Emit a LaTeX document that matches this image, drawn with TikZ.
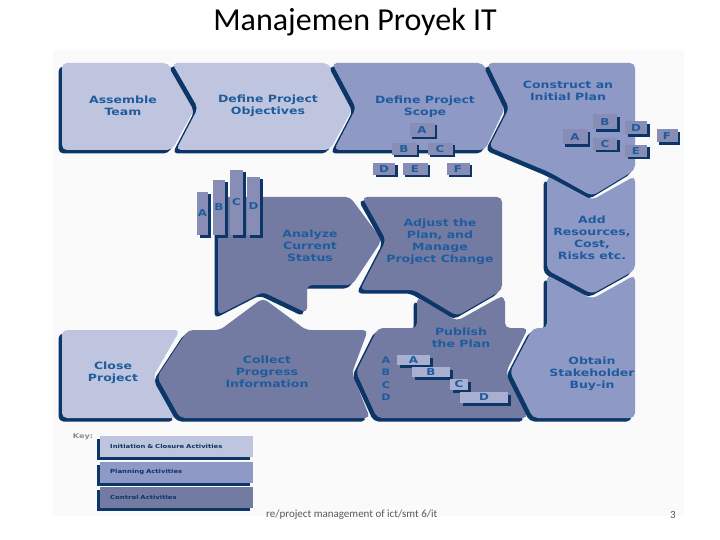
\documentclass[tikz,border=0pt]{standalone}
\usepackage{fontspec}
\setmainfont{Carlito}
\newfontfamily\boxfont[FakeStretch=1.25]{DejaVu Sans}
\usepackage{tikz}
\usetikzlibrary{shadows}

\definecolor{initc}{HTML}{BFC5DE}
\definecolor{planc}{HTML}{8E99C6}
\definecolor{ctrlc}{HTML}{737BA3}
\definecolor{edgec}{HTML}{0C3568}
\definecolor{labc}{HTML}{1F5C9E}
\definecolor{tabc}{HTML}{878DB4}
\definecolor{barc}{HTML}{A9AFD0}

\begin{document}
\begin{tikzpicture}[x=1pt,y=-1pt,every node/.style={inner sep=0pt},
    piece/.style={fill=#1,rounded corners=5pt,
      drop shadow={shadow xshift=-3.5pt,shadow yshift=-3.5pt,opacity=1,fill=edgec}},
    lab/.style={text=labc,align=center,font=\boxfont\bfseries\fontsize{10}{12}\selectfont},
    tab/.style={fill=tabc,text=labc,minimum width=#1,
      font=\boxfont\bfseries\fontsize{9.5}{9.5}\selectfont,
      drop shadow={shadow xshift=2.5pt,shadow yshift=-2.5pt,opacity=1,fill=edgec}},
    bar/.style={tab=#1,fill=barc,minimum height=10pt},
    keybar/.style={fill=#1,anchor=west,text width=133pt,inner xsep=10pt,minimum height=21pt,
      text=edgec,font=\boxfont\bfseries\fontsize{5.5}{6}\selectfont,
      drop shadow={shadow xshift=-3pt,shadow yshift=-3pt,opacity=1,fill=edgec}}]
  \useasboundingbox (0,0) rectangle (720,540);
  \fill[black!2] (53,50) rectangle (684,516);

  % top row
  \path[piece=initc] (62,63) -- (168,63) -- (195,108) -- (172,150) -- (62,150) -- cycle;
  \path[piece=initc] (172,63) -- (328,63) -- (353,108) -- (330,150) -- (176,150) -- (198,108) -- cycle;
  \path[piece=planc] (332,63) -- (483,63) -- (505,108) -- (485,150) -- (334,150) -- (356,108) -- cycle;
  \path[piece=planc] (487,63) -- (635,63) -- (635,170) -- (592,196) -- (549,172) -- (489,147) -- (509,108) -- cycle;
  % right column
  \path[piece=planc] (547,176) -- (592,200) -- (635,176) -- (635,270) -- (592,294) -- (547,270) -- cycle;
  % bottom row
  \path[piece=initc] (62,330) -- (180,330) -- (153,377) -- (178,418) -- (62,418) -- cycle;
  \path[piece=ctrlc] (188,330) -- (220,330) -- (263,298) -- (306,330) -- (368,330) -- (352,373)
    -- (370,418) -- (180,418) -- (157,377) -- cycle;
  % middle
  \path[piece=ctrlc] (218,197) -- (350,197) -- (382,240) -- (352,285) -- (307,285) -- (307,313)
    -- (263,292) -- (218,315) -- cycle;
  \path[piece=ctrlc] (362,197) -- (502,197) -- (502,290) -- (457,316) -- (414,290) -- (360,290)
    -- (386,240) -- cycle;
  \path[piece=ctrlc] (417,297) -- (457,321) -- (500,297) -- (505,297) -- (505,328) -- (528,328)
    -- (506,372) -- (528,418) -- (377,418) -- (356,372) -- (378,328) -- (417,328) -- cycle;
  \path[piece=planc] (547,275) -- (592,299) -- (635,275) -- (635,418) -- (533,418) -- (510,372)
    -- (533,328) -- (547,328) -- cycle;

  % labels
  \node[lab] (assemble) at (123,106) {Assemble\\Team};
  \node[lab] (objectives) at (268,106) {Define Project\\Objectives};
  \node[lab] (scope) at (425,107) {Define Project\\Scope};
  \node[lab] (construct) at (568,91) {Construct an\\Initial Plan};
  \node[lab] (resources) at (592,238) {Add\\Resources,\\Cost,\\Risks etc.};
  \node[lab] (stakeholder) at (592,374) {Obtain\\Stakeholder\\Buy-in};
  \node[lab] (analyze) at (310,246) {Analyze\\Current\\Status};
  \node[lab] (adjust) at (440,242) {Adjust the\\Plan, and\\Manage\\Project Change};
  \node[lab] (publish) at (461,338) {Publish\\the Plan};
  \node[lab] (collect) at (267,372) {Collect\\Progress\\Information};
  \node[lab] (close) at (113,373) {Close\\Project};

  % scope tree
  \node[tab=25pt,minimum height=14pt] (sa) at (422,130) {A};
  \node[tab=25pt,minimum height=12pt] (sb) at (404,149) {B};
  \node[tab=25pt,minimum height=12pt] (sc) at (440,149) {C};
  \node[tab=22pt,minimum height=12pt] (sd) at (384,169) {D};
  \node[tab=25pt,minimum height=12pt] (se) at (415,169) {E};
  \node[tab=23pt,minimum height=12pt] (sf) at (458,169) {F};

  % plan network
  \node[tab=25pt,minimum height=15pt] (pa) at (575,137) {A};
  \node[tab=24pt,minimum height=15pt] (pb) at (605,122) {B};
  \node[tab=24pt,minimum height=12pt] (pc) at (605,144) {C};
  \node[tab=22pt,minimum height=13pt] (pd) at (636,128) {D};
  \node[tab=22pt,minimum height=12pt] (pe) at (636,151) {E};
  \node[tab=21pt,minimum height=13pt] (pf) at (667,136) {F};

  % status columns
  \node[tab=11pt,minimum height=43pt] (ca) at (202.5,213.5) {A};
  \node[tab=12pt,minimum height=55pt] (cb) at (219,207.5) {B};
  \node[tab=13pt,minimum height=65pt] (cc) at (236.5,202.5) {C};
  \node[tab=13pt,minimum height=58pt] (cd) at (253.5,206) {D};

  % gantt
  \foreach \t/\yy in {A/360,B/372,C/385,D/397}
    \node[lab,font=\boxfont\bfseries\fontsize{9}{9}\selectfont] (g\t) at (386,\yy) {\t};
  \node[bar=33pt] (ba) at (413.5,360) {A};
  \node[bar=38pt] (bb) at (431,372) {B};
  \node[bar=18pt,minimum height=11pt] (bc) at (459,384.5) {C};
  \node[bar=48pt,minimum height=11pt] (bd) at (484,397.5) {D};

  % key
  \node[text=black!45,font=\boxfont\bfseries\fontsize{6.5}{6.5}\selectfont] (key) at (83,437) {Key:};
  \node[keybar=initc] (kinit) at (100,446) {Initiation \& Closure Activities};
  \node[keybar=planc] (kplan) at (100,472.5) {Planning Activities};
  \node[keybar=ctrlc] (kctrl) at (100,497.5) {Control Activities};

  % title and footer
  \node[font=\fontsize{32}{36}\selectfont] (title) at (355,22) {Manajemen Proyek IT};
  \node[anchor=west,text=black!65,font=\fontsize{11}{12}\selectfont] (foot) at (266,515) {re/project management of ict/smt 6/it};
  \node[text=black!65,font=\fontsize{11}{12}\selectfont] (page) at (673,515) {3};
\end{tikzpicture}
\end{document}
